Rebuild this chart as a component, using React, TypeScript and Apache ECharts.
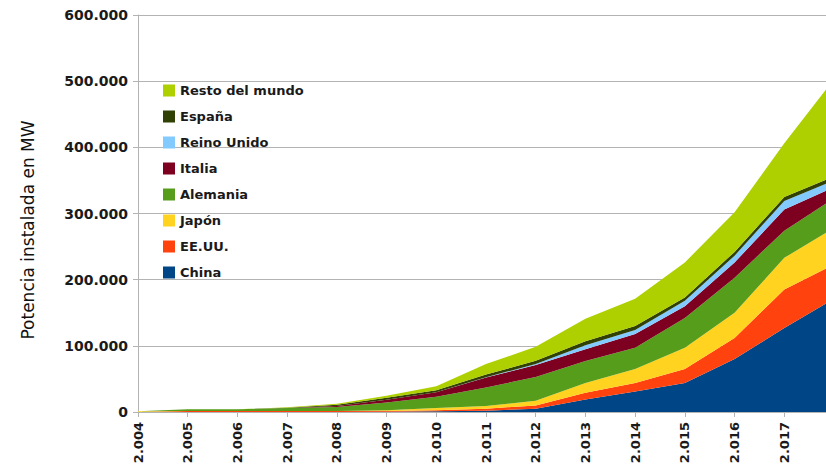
import React, { useEffect, useRef } from "react";
import * as echarts from "echarts";

const years = ["2.004", "2.005", "2.006", "2.007", "2.008", "2.009", "2.010", "2.011", "2.012", "2.013", "2.014", "2.015", "2.016", "2.017", "2.018"];

// MW
const china = [0, 0, 0, 0, 0, 500, 1000, 2000, 5000, 19000, 31000, 44000, 80000, 127000, 171000];
const eeuu = [0, 1500, 1500, 1500, 1500, 1000, 1500, 3000, 5000, 10000, 13000, 21000, 32000, 58000, 52000];
const japon = [1200, 0, 0, 0, 0, 1000, 3500, 4000, 7000, 15000, 21000, 32000, 38000, 48000, 55000];
const alemania = [0, 2500, 2500, 4500, 6000, 12000, 17000, 28000, 36000, 33000, 32000, 45000, 53000, 41000, 45000];
const italia = [0, 0, 0, 0, 1500, 4000, 7000, 15000, 18000, 18000, 21000, 18000, 23000, 32000, 17000];
const reinoUnido = [0, 0, 0, 0, 0, 0, 0, 500, 1500, 6000, 6000, 8000, 10000, 13000, 10000];
const espana = [0, 0, 0, 500, 2000, 3000, 3000, 4000, 5000, 6000, 6000, 5000, 6000, 6000, 6000];
const restoMundo = [0, 0, 0, 500, 1500, 3000, 6000, 16000, 21000, 34000, 41000, 53000, 60000, 81000, 147000];

const seriesDefs = [
  { name: "China", data: china, color: "#004586" },
  { name: "EE.UU.", data: eeuu, color: "#ff420e" },
  { name: "Japón", data: japon, color: "#ffd320" },
  { name: "Alemania", data: alemania, color: "#579d1c" },
  { name: "Italia", data: italia, color: "#7e0021" },
  { name: "Reino Unido", data: reinoUnido, color: "#83caff" },
  { name: "España", data: espana, color: "#314004" },
  { name: "Resto del mundo", data: restoMundo, color: "#aecf00" },
];

const yAxisName = "Potencia instalada en MW";

const fmt = (v: number) => String(v).replace(/\B(?=(\d{3})+(?!\d))/g, ".");

const FONT = "DejaVu Sans";

export default function App() {
  const ref = useRef<HTMLDivElement>(null);
  useEffect(() => {
    if (!ref.current) return;
    const chart = echarts.init(ref.current, undefined, { renderer: "svg" });
    chart.setOption({
      animation: false,
      backgroundColor: "#ffffff",
      grid: { left: 138, right: 8, top: 15, bottom: 57, containLabel: false },
      legend: {
        orient: "vertical",
        left: 158,
        top: 79,
        itemWidth: 12,
        itemHeight: 12,
        itemGap: 13,
        icon: "rect",
        data: seriesDefs.map((s) => s.name).reverse(),
        textStyle: { fontFamily: FONT, fontSize: 13, fontWeight: "bold", color: "#1a1a1a" },
      },
      graphic: [
        {
          type: "text",
          x: 28,
          y: 230,
          rotation: Math.PI / 2,
          style: {
            text: yAxisName,
            fontFamily: FONT,
            fontSize: 17,
            fill: "#111",
            textAlign: "center",
            textVerticalAlign: "middle",
          },
        },
      ],
      xAxis: {
        type: "category",
        boundaryGap: false,
        data: years,
        axisLine: { show: true, lineStyle: { color: "#b3b3b3", width: 1 } },
        axisTick: { show: true, length: 5, interval: 0, lineStyle: { color: "#b3b3b3" } },
        axisLabel: {
          rotate: 90,
          interval: (idx: number) => idx < years.length - 1,
          margin: 10,
          fontFamily: FONT,
          fontSize: 13,
          fontWeight: "bold",
          color: "#1a1a1a",
        },
        splitLine: { show: false },
      },
      yAxis: {
        type: "value",
        min: 0,
        max: 600000,
        interval: 100000,
        axisLine: { show: true, lineStyle: { color: "#b3b3b3", width: 1 } },
        axisTick: { show: true, length: 5, lineStyle: { color: "#b3b3b3" } },
        axisLabel: { formatter: (v: number) => fmt(v), margin: 10, fontFamily: FONT, fontSize: 14, fontWeight: "bold", color: "#1a1a1a" },
        splitLine: { show: true, lineStyle: { color: "#b3b3b3", width: 1 } },
      },
      series: seriesDefs.map((s) => ({
        name: s.name,
        type: "line",
        stack: "total",
        data: s.data,
        symbol: "none",
        showSymbol: false,
        lineStyle: { width: 0, color: s.color },
        itemStyle: { color: s.color },
        areaStyle: { color: s.color, opacity: 1 },
        emphasis: { disabled: true },
      })),
    });
    return () => chart.dispose();
  }, []);
  return (
    <div style={{ position: "fixed", left: 0, top: 0, width: 826, height: 469, overflow: "hidden", background: "#fff" }}>
      <div ref={ref} style={{ width: 842, height: 469 }} />
    </div>
  );
}
